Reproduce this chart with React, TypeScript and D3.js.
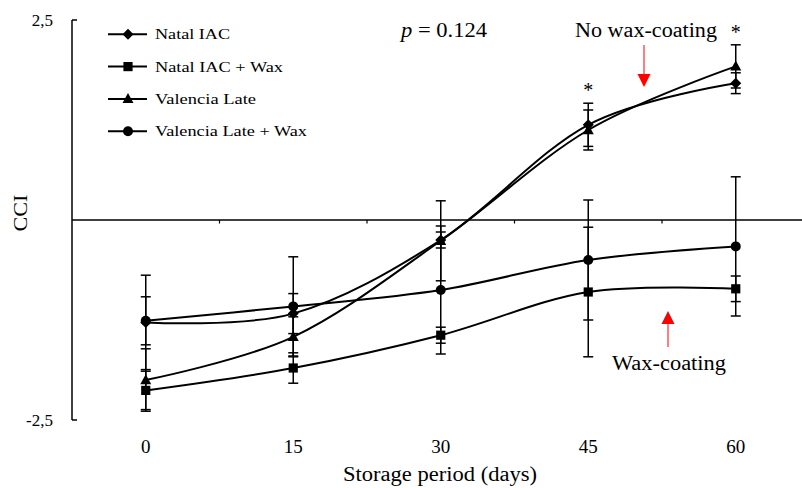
import React from "react";
import * as d3 from "d3";

const days = ["0", "15", "30", "45", "60"];
const seriesNames = ["Natal IAC", "Natal IAC + Wax", "Valencia Late", "Valencia Late + Wax"];
const seriesMarkers = ["diamond", "square", "triangle", "circle"];
const natalIAC = [-1.28, -1.17, -0.25, 1.19, 1.71];
const natalIACErr = [0.59, 0.25, 0.1, 0.27, 0.13];
const natalIACWax = [-2.13, -1.85, -1.44, -0.9, -0.86];
const natalIACWaxErr = [0.24, 0.19, 0.1, 0.81, 0.16];
const valenciaLate = [-2.0, -1.46, -0.26, 1.125, 1.92];
const valenciaLateErr = [0.39, 0.25, 0.5, 0.25, 0.27];
const valenciaLateWax = [-1.26, -1.08, -0.875, -0.5, -0.33];
const valenciaLateWaxErr = [0.3, 0.62, 0.8, 0.75, 0.87];
const yTicks = [-2.5, 2.5];
const yTickLabels = ["-2,5", "2,5"];
const legendWidths = [75, 128, 101, 152];
const significantDays = ["45", "60"];

const values = [natalIAC, natalIACWax, valenciaLate, valenciaLateWax];
const errors = [natalIACErr, natalIACWaxErr, valenciaLateErr, valenciaLateWaxErr];

const FONT = "'Liberation Serif', 'Times New Roman', serif";

function markerPath(type: string, cx: number, cy: number): string {
  if (type === "diamond") {
    const r = 5.5;
    return `M${cx},${cy - r}L${cx + r},${cy}L${cx},${cy + r}L${cx - r},${cy}Z`;
  }
  if (type === "square") {
    const r = 4.6;
    return `M${cx - r},${cy - r}H${cx + r}V${cy + r}H${cx - r}Z`;
  }
  if (type === "triangle") {
    return `M${cx},${cy - 5.8}L${cx + 5.5},${cy + 4.2}L${cx - 5.5},${cy + 4.2}Z`;
  }
  const r = 5;
  return `M${cx - r},${cy}A${r},${r} 0 1,0 ${cx + r},${cy}A${r},${r} 0 1,0 ${cx - r},${cy}Z`;
}

export default function App() {
  const W = 802;
  const H = 488;
  const axisX = 72;
  const x = d3.scaleBand<string>().domain(days).range([axisX, 809.5]).padding(0);
  const cx = (d: string) => (x(d) as number) + x.bandwidth() / 2;
  const y = d3.scaleLinear().domain([-2.5, 2.5]).range([420, 20]);
  const line = d3.line<[number, number]>().curve(d3.curveCardinal.tension(0));
  const boundaries = days.map((d) => x(d) as number).slice(1);

  const legendX = 108;
  const legendY = (i: number) => 34.3 + i * 32.3;

  return (
    <svg
      width={W}
      height={H}
      style={{ position: "absolute", left: 0, top: 0, background: "#fff" }}
      fontFamily={FONT}
    >
      <rect x={0} y={0} width={W} height={H} fill="#fff" />
      {/* y axis */}
      <line x1={axisX} x2={axisX} y1={y(2.5)} y2={y(-2.5)} stroke="#000" strokeWidth={1.5} />
      {yTicks.map((t, i) => (
        <g key={"yt" + i}>
          <line x1={axisX} x2={axisX + 5} y1={y(t)} y2={y(t)} stroke="#000" strokeWidth={1.5} />
          <text x={53} y={y(t) + 6} textAnchor="end" fontSize={17} fill="#000">
            {yTickLabels[i]}
          </text>
        </g>
      ))}
      {/* x axis at zero */}
      <line x1={axisX} x2={W} y1={y(0)} y2={y(0)} stroke="#000" strokeWidth={1.5} />
      {boundaries.map((b, i) => (
        <line key={"xt" + i} x1={b} x2={b} y1={y(0)} y2={y(0) + 3.5} stroke="#000" strokeWidth={1.2} />
      ))}
      {days.map((d) => (
        <text key={"xl" + d} x={cx(d)} y={453} textAnchor="middle" fontSize={19} fill="#000">
          {d}
        </text>
      ))}
      <text x={440} y={481} textAnchor="middle" fontSize={20} textLength={194} lengthAdjust="spacingAndGlyphs" fill="#000">
        Storage period (days)
      </text>
      <text
        transform={`translate(27,${213}) rotate(-90)`}
        textAnchor="middle"
        fontSize={19}
        textLength={37}
        lengthAdjust="spacingAndGlyphs"
        fill="#000"
      >
        CCI
      </text>

      {/* series lines */}
      {values.map((vals, si) => (
        <path
          key={"l" + si}
          d={line(days.map((d, i) => [cx(d), y(vals[i])] as [number, number])) || ""}
          fill="none"
          stroke="#000"
          strokeWidth={2}
        />
      ))}
      {/* error bars */}
      {values.map((vals, si) =>
        days.map((d, i) => {
          const hi = y(vals[i] + errors[si][i]);
          const lo = y(vals[i] - errors[si][i]);
          const px = cx(d);
          return (
            <g key={"e" + si + "-" + i} stroke="#000" strokeWidth={1.5}>
              <line x1={px} x2={px} y1={hi} y2={lo} />
              <line x1={px - 5} x2={px + 5} y1={hi} y2={hi} />
              <line x1={px - 5} x2={px + 5} y1={lo} y2={lo} />
            </g>
          );
        })
      )}
      {/* markers */}
      {values.map((vals, si) =>
        days.map((d, i) => (
          <path key={"m" + si + "-" + i} d={markerPath(seriesMarkers[si], cx(d), y(vals[i]))} fill="#000" />
        ))
      )}

      {/* legend */}
      {seriesNames.map((name, i) => (
        <g key={"lg" + i}>
          <line x1={legendX} x2={legendX + 39} y1={legendY(i)} y2={legendY(i)} stroke="#000" strokeWidth={2} />
          <path d={markerPath(seriesMarkers[i], legendX + 20, legendY(i))} fill="#000" />
          <text
            x={155}
            y={legendY(i) + 5}
            fontSize={15}
            textLength={legendWidths[i]}
            lengthAdjust="spacingAndGlyphs"
            fill="#000"
          >
            {name}
          </text>
        </g>
      ))}

      {/* annotations */}
      <text x={401} y={37} fontSize={20} textLength={86} lengthAdjust="spacingAndGlyphs" fill="#000">
        <tspan fontStyle="italic">p</tspan> = 0.124
      </text>
      <text x={575} y={37} fontSize={20} textLength={142} lengthAdjust="spacingAndGlyphs" fill="#000">
        No wax-coating
      </text>
      {significantDays.map((d, i) => (
        <text key={"s" + d} x={cx(d)} y={i === 0 ? 97 : 39} textAnchor="middle" fontSize={20} fill="#000">
          *
        </text>
      ))}
      <line x1={644} x2={644} y1={45} y2={75} stroke="#ff0000" strokeWidth={1} />
      <path d="M637.5,74L650.5,74L644,87Z" fill="#ff0000" />
      <line x1={668} x2={668} y1={347} y2={323} stroke="#ff0000" strokeWidth={1} />
      <path d="M661.5,324L674.5,324L668,311Z" fill="#ff0000" />
      <text x={612} y={370} fontSize={20} textLength={114} lengthAdjust="spacingAndGlyphs" fill="#000">
        Wax-coating
      </text>
    </svg>
  );
}
